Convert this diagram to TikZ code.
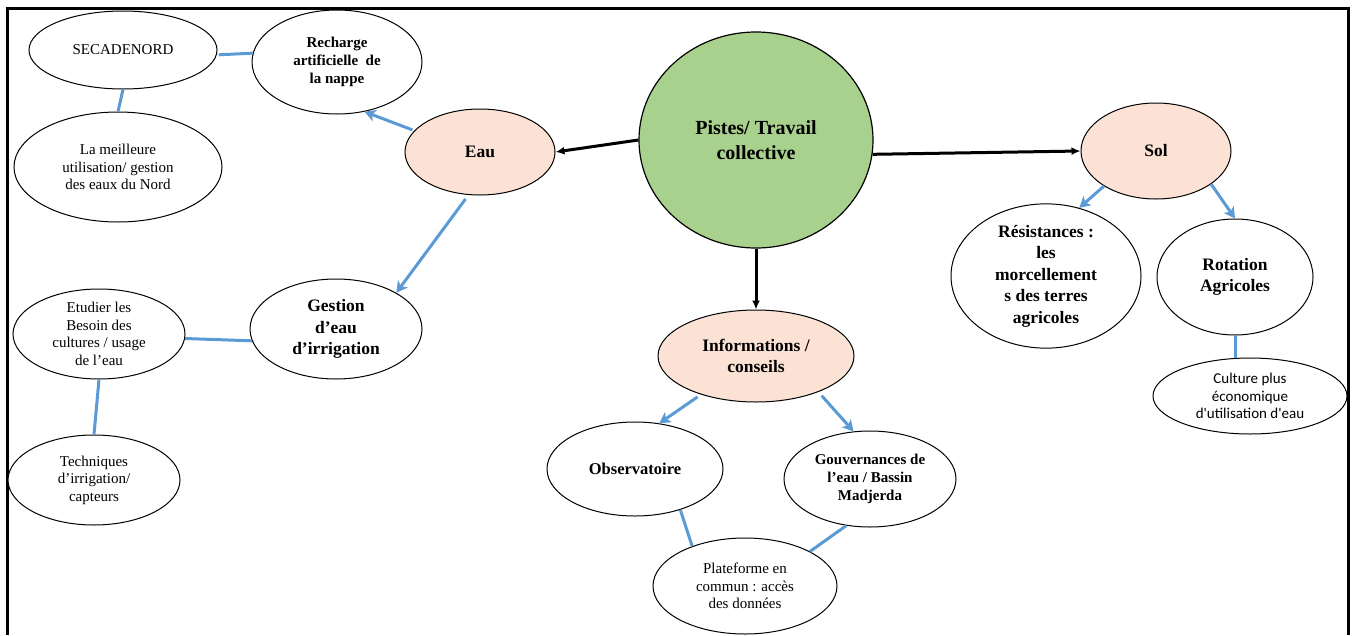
\documentclass[tikz,border=0pt]{standalone}
\usepackage{fontspec}
\setmainfont{Liberation Serif}
\newfontfamily\calibrifont{Carlito}
\usetikzlibrary{shapes.geometric,arrows.meta}
\definecolor{pgreen}{HTML}{A9D18E}
\definecolor{ppeach}{HTML}{FBE2D5}
\definecolor{lblue}{HTML}{5B9BD5}
\tikzset{
  oval/.style={ellipse,draw=black,line width=1pt,fill=white,inner sep=0pt,align=center},
  regtext/.style={font=\fontsize{15}{17.6}\selectfont},
  boldtext/.style={font=\fontsize{17.5}{21.5}\selectfont\bfseries},
  midbold/.style={font=\fontsize{15}{18}\selectfont\bfseries},
  blueline/.style={draw=lblue,line width=3pt},
  bluearrow/.style={draw=lblue,line width=3pt,-{Stealth[length=11pt,width=12pt,inset=3pt]}},
  blackarrow/.style={draw=black,line width=3pt,-{Latex[length=9pt,width=8pt]}},
}
\begin{document}
\begin{tikzpicture}[x=1pt,y=-1pt]
\useasboundingbox (0,0) rectangle (1355,635);
% frame (open at the bottom)
\draw[line width=3pt] (7.5,635) -- (7.5,8) -- (1348,8) -- (1348,635);

% nodes
\node[oval,regtext,minimum width=188,minimum height=78] (sec) at (123,50) {SECADENORD};
\node[oval,midbold,minimum width=170,minimum height=104] (rech) at (337,62) {Recharge\\artificielle~ de\\la nappe};
\node[oval,regtext,minimum width=208,minimum height=110] (meil) at (118,167) {La meilleure\\utilisation/ gestion\\des eaux du Nord};
\node[oval,boldtext,fill=ppeach,minimum width=150,minimum height=86] (eau) at (480,152) {Eau};
\node[oval,fill=pgreen,line width=1.2pt,font=\fontsize{20}{25}\selectfont\bfseries,minimum width=234,minimum height=216] (pistes) at (756,140) {Pistes/ Travail\\collective};
\node[oval,boldtext,fill=ppeach,minimum width=150,minimum height=96] (sol) at (1156,151) {Sol};
\node[oval,boldtext,minimum width=190,minimum height=118] (res) at (1046,276) {Résistances :\\les\\morcellement\\s des terres\\agricoles};
\node[oval,boldtext,minimum width=156,minimum height=116] (rot) at (1235,277) {Rotation\\Agricoles};
\node[oval,font=\calibrifont\fontsize{15}{17.8}\selectfont,minimum width=194,minimum height=76] (cult) at (1250,396) {Culture plus\\économique\\d'utilisation d'eau};
\node[oval,boldtext,fill=ppeach,minimum width=196,minimum height=92] (info) at (756,356) {Informations /\\conseils};
\node[oval,font=\fontsize{16.5}{20}\selectfont\bfseries,minimum width=176,minimum height=94] (obs) at (635,469) {Observatoire};
\node[oval,midbold,minimum width=172,minimum height=96] (gouv) at (870,479) {Gouvernances de\\l’eau / Bassin\\Madjerda};
\node[oval,regtext,minimum width=184,minimum height=96] (plat) at (745,586) {Plateforme en\\commun : accès\\des données};
\node[oval,boldtext,minimum width=172,minimum height=100] (gest) at (336,329) {Gestion\\d’eau\\d’irrigation};
\node[oval,regtext,minimum width=172,minimum height=90] (etud) at (99,334) {Etudier les\\Besoin des\\cultures / usage\\de l’eau};
\node[oval,regtext,minimum width=172,minimum height=90] (tech) at (94,480) {Techniques\\d’irrigation/\\capteurs};

% black arrows from the centre
\draw[blackarrow] (pistes.west) -- (eau.east);
\draw[blackarrow] (pistes.-7) -- (sol.west);
\draw[blackarrow] (pistes.south) -- (info.north);

% blue arrows
\draw[bluearrow,shorten <=2pt] (eau.162) -- (rech.-61);
\draw[bluearrow,shorten <=5pt] (eau.-105) -- (gest.31);
\draw[bluearrow] (sol.-146) -- (res.64);
\draw[bluearrow] (sol.-31) -- (rot.north);
\draw[bluearrow,shorten <=4pt] (info.-145) -- (obs.62);
\draw[bluearrow,shorten <=5pt] (info.-30) -- (gouv.109);

% blue lines
\draw[blueline,shorten <=2pt] (sec.-3) -- (rech.174);
\draw[blueline] (sec.south) -- (meil.north);
\draw[blueline] (etud.-3) -- (gest.188);
\draw[blueline] (etud.south) -- (tech.north);
\draw[blueline] (rot.south) -- (rot.south |- cult.north);
\draw[blueline] (obs.-42) -- (plat.143);
\draw[blueline] (gouv.-117) -- (plat.28);
\end{tikzpicture}
\end{document}
